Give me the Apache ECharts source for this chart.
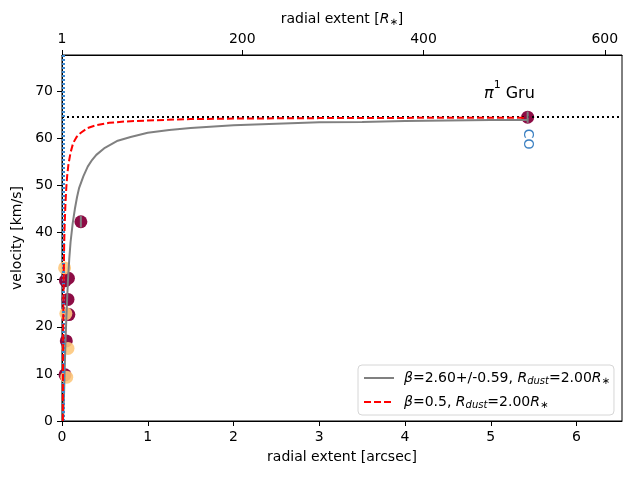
<!DOCTYPE html>
<html lang="en">
<head>
    <meta charset="utf-8">
    <title>pi1 Gru velocity</title>
    <script src="https://cdn.jsdelivr.net/npm/echarts@6/dist/echarts.min.js"></script>
</head>
<body style="margin:0">
    <div id="main" style="width: 640px;height:480px;"></div>
    <script>
    // values: [radial extent arcsec, velocity km/s]
    var fitCurve = [[0.011,0],[0.015,1],[0.02,3.5],[0.025,6.5],[0.03,10],[0.04,16.5],[0.05,21.5],
        [0.06,26],[0.07,30],[0.085,34.5],[0.1,38],[0.125,42],[0.15,45],[0.175,47.5],[0.2,49.5],
        [0.25,52],[0.3,54],[0.35,55.4],[0.4,56.5],[0.5,58],[0.65,59.5],[0.8,60.3],[1.0,61.2],
        [1.25,61.8],[1.5,62.2],[2.0,62.8],[2.5,63.1],[3.0,63.4],[3.5,63.5],[4.0,63.7],[4.5,63.8],
        [5.0,63.9],[5.43,63.9]];
    var betaHalfCurve = [[0.0103,0],[0.011,8],[0.012,12.5],[0.014,19],[0.017,26],[0.02,30.5],
        [0.025,37],[0.03,41],[0.04,46],[0.05,49.5],[0.06,52],[0.075,54.5],[0.1,57],[0.13,59],
        [0.17,60.3],[0.22,61.2],[0.3,62.2],[0.4,62.8],[0.55,63.3],[0.75,63.6],[1.0,63.8],
        [1.5,64.1],[2.0,64.2],[3.0,64.3],[4.0,64.35],[5.43,64.4]];
    var darkPoints = [[0.22,42.3],[0.04,29.8],[0.075,30.3],[0.07,25.8],[0.08,22.6],
        [0.05,17.0],[0.035,9.8]];
    var coPoint = [5.43, 64.5];
    var lightPoints = [[0.03,32.5],[0.045,22.8],[0.07,15.4],[0.055,9.3]];
    // [x, y, half error]
    var errBars = [[0.22,42.3,1.2],[5.43,64.5,1.2]];
    var vTerminal = 64.5;
    var xTicks = [0,1,2,3,4,5,6];
    var yTicks = [0,10,20,30,40,50,60,70];
    var rTicks = [1,200,400,600];

    var font = 'DejaVu Sans';
    var fs = 14;
    var myChart = echarts.init(document.getElementById('main'));

    var legendText = {
        fit: '{i|β}=2.60+/-0.59, {i|R}{s|dust}=2.00{i|R}{s|∗}',
        half: '{i|β}=0.5, {i|R}{s|dust}=2.00{i|R}{s|∗}'
    };
    var richText = {
        i: { fontFamily: font, fontSize: fs, fontStyle: 'italic', color: '#000' },
        s: { fontFamily: font, fontSize: 10, fontStyle: 'italic', color: '#000', verticalAlign: 'bottom', padding: [6, 0, 0, 0] }
    };

    var option = {
        animation: false,
        backgroundColor: '#fff',
        textStyle: { fontFamily: font },
        title: {
            text: '{i|π}{sup|1}{n| Gru}',
            left: 479,
            top: 75,
            textStyle: {
                fontWeight: 'normal',
                rich: {
                    i: { fontFamily: font, fontStyle: 'italic', fontWeight: 'normal', fontSize: 16, color: '#000', verticalAlign: 'bottom', lineHeight: 22 },
                    sup: { fontFamily: font, fontWeight: 'normal', fontSize: 11, color: '#000', verticalAlign: 'top', lineHeight: 22 },
                    n: { fontFamily: font, fontWeight: 'normal', fontSize: 16, color: '#000', verticalAlign: 'bottom', lineHeight: 22 }
                }
            }
        },
        grid: {
            left: 62, right: 18, top: 55, bottom: 59,
            show: true, borderColor: '#000', borderWidth: 1, backgroundColor: 'transparent'
        },
        legend: {
            left: 358,
            top: 365,
            orient: 'vertical',
            itemWidth: 30,
            itemHeight: 14,
            itemGap: 9,
            padding: [6, 4, 5, 5],
            backgroundColor: '#fff',
            borderColor: '#d6d6d6',
            borderWidth: 1,
            borderRadius: 4,
            itemStyle: { opacity: 0 },
            data: ['fit', 'half'],
            formatter: function (name) { return legendText[name]; },
            textStyle: {
                fontFamily: font, fontSize: fs, color: '#000',
                padding: [0, 0, 0, 5],
                rich: richText
            }
        },
        xAxis: [{
            type: 'value',
            min: 0, max: 6.53,
            name: 'radial extent [arcsec]',
            nameLocation: 'middle',
            nameGap: 29,
            nameTextStyle: { fontFamily: font, fontSize: fs, color: '#000' },
            axisLine: { show: true, lineStyle: { color: '#000' } },
            axisTick: { show: true, length: 5, customValues: xTicks, lineStyle: { color: '#000' } },
            axisLabel: { customValues: xTicks, fontFamily: font, fontSize: fs, color: '#000', margin: 9 },
            splitLine: { show: false }
        }, {
            type: 'value',
            position: 'top',
            min: 1, max: 619,
            name: 'radial extent [{i|R}{s|∗}]',
            nameLocation: 'middle',
            nameGap: 22,
            nameTextStyle: { fontFamily: font, fontSize: fs, color: '#000', rich: richText },
            axisLine: { show: true, lineStyle: { color: '#000' } },
            axisTick: { show: true, length: 5, customValues: rTicks, lineStyle: { color: '#000' } },
            axisLabel: { customValues: rTicks, fontFamily: font, fontSize: fs, color: '#000', margin: 9 },
            splitLine: { show: false }
        }],
        yAxis: {
            type: 'value',
            min: 0, max: 77.7,
            name: 'velocity [km/s]',
            nameLocation: 'middle',
            nameGap: 32,
            nameTextStyle: { fontFamily: font, fontSize: fs, color: '#000' },
            axisLine: { show: true, lineStyle: { color: '#000' } },
            axisTick: { show: true, length: 5, customValues: yTicks, lineStyle: { color: '#000' } },
            axisLabel: { customValues: yTicks, fontFamily: font, fontSize: fs, color: '#000', margin: 9 },
            splitLine: { show: false }
        },
        series: [
            {
                name: 'dark',
                type: 'scatter',
                symbolSize: 13,
                itemStyle: { color: '#8d0c45', opacity: 1 },
                data: darkPoints.concat([{
                    value: coPoint,
                    label: {
                        show: true,
                        formatter: 'CO',
                        position: 'bottom',
                        distance: 10,
                        rotate: -90,
                        align: 'left',
                        verticalAlign: 'middle',
                        offset: [-5, 0],
                        fontFamily: font,
                        fontSize: fs,
                        color: '#3a7fc1'
                    }
                }]),
                z: 2
            },
            {
                name: 'light',
                type: 'scatter',
                symbolSize: 13,
                itemStyle: { color: '#fdc87c', opacity: 0.9 },
                data: lightPoints,
                z: 3
            },
            {
                name: 'fit',
                type: 'line',
                symbol: 'none',
                color: '#808080',
                lineStyle: { color: '#808080', width: 2 },
                data: fitCurve,
                z: 4
            },
            {
                name: 'half',
                type: 'line',
                symbol: 'none',
                color: '#ff0000',
                lineStyle: { color: '#ff0000', width: 2, type: [7, 3] },
                data: betaHalfCurve,
                markLine: {
                    silent: true,
                    symbol: 'none',
                    label: { show: false },
                    data: [
                        { yAxis: vTerminal, lineStyle: { color: '#000', width: 2, type: [2, 3] } },
                        { xAxis: 0.015, lineStyle: { color: '#3b86cc', width: 3, type: [2, 2] } }
                    ]
                },
                z: 5
            },
            {
                name: 'err',
                type: 'custom',
                data: errBars,
                renderItem: function (params, api) {
                    var x = api.value(0), y = api.value(1), e = api.value(2);
                    var p1 = api.coord([x, y - e]);
                    var p2 = api.coord([x, y + e]);
                    return {
                        type: 'line',
                        shape: { x1: p1[0], y1: p1[1], x2: p2[0], y2: p2[1] },
                        style: { stroke: '#808080', lineWidth: 2 }
                    };
                },
                z: 6
            }
        ]
    };
    myChart.setOption(option);
    </script>
</body>
</html>
